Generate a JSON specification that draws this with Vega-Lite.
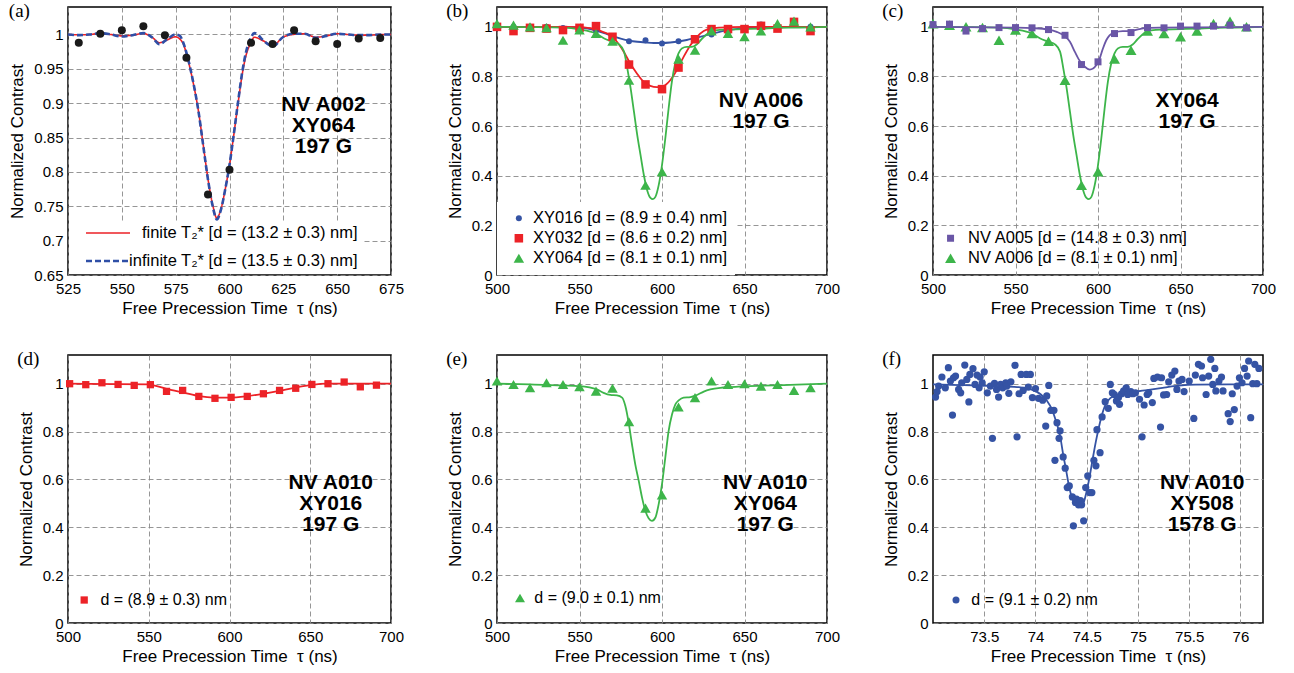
{
"$schema":"https://vega.github.io/schema/vega-lite/v6.json",
"background":"white",
"padding":{"left":8,"top":1,"right":0,"bottom":0},
"datasets":{
"a_pts":[{"t":530,"c":0.988},{"t":540,"c":1.001},{"t":550,"c":1.006},{"t":560,"c":1.012},{"t":570,"c":0.999},{"t":580,"c":0.966},{"t":590,"c":0.767},{"t":600,"c":0.803},{"t":610,"c":0.988},{"t":620,"c":0.986},{"t":630,"c":1.006},{"t":640,"c":0.99},{"t":650,"c":0.986},{"t":660,"c":0.994},{"t":670,"c":0.995}],
"a_fit":[
{"t":525,"c":1.0,"s":"finite"},{"t":530,"c":0.9995,"s":"finite"},{"t":535,"c":1.0,"s":"finite"},{"t":540,"c":1.0015,"s":"finite"},{"t":545,"c":1.0,"s":"finite"},{"t":550,"c":0.998,"s":"finite"},{"t":555,"c":0.999,"s":"finite"},{"t":560,"c":1.0015,"s":"finite"},{"t":564,"c":0.996,"s":"finite"},{"t":567.5,"c":0.988,"s":"finite"},{"t":571,"c":0.992,"s":"finite"},{"t":574.8,"c":0.9966,"s":"finite"},{"t":578.3,"c":0.988,"s":"finite"},{"t":580.3,"c":0.968,"s":"finite"},{"t":583,"c":0.932,"s":"finite"},{"t":585.6,"c":0.888,"s":"finite"},{"t":587.6,"c":0.844,"s":"finite"},{"t":590.2,"c":0.786,"s":"finite"},{"t":592.2,"c":0.752,"s":"finite"},{"t":594.1,"c":0.733,"s":"finite"},{"t":596.1,"c":0.747,"s":"finite"},{"t":598.1,"c":0.776,"s":"finite"},{"t":600,"c":0.81,"s":"finite"},{"t":602,"c":0.854,"s":"finite"},{"t":603.9,"c":0.898,"s":"finite"},{"t":605.9,"c":0.942,"s":"finite"},{"t":607.8,"c":0.971,"s":"finite"},{"t":609.6,"c":0.986,"s":"finite"},{"t":611.6,"c":0.996,"s":"finite"},{"t":615.5,"c":0.991,"s":"finite"},{"t":620.2,"c":0.984,"s":"finite"},{"t":624.8,"c":0.996,"s":"finite"},{"t":629.5,"c":1.0,"s":"finite"},{"t":635,"c":1.001,"s":"finite"},{"t":640,"c":0.996,"s":"finite"},{"t":645,"c":0.998,"s":"finite"},{"t":650,"c":1.001,"s":"finite"},{"t":655,"c":1.0,"s":"finite"},{"t":660,"c":0.999,"s":"finite"},{"t":665,"c":0.999,"s":"finite"},{"t":670,"c":1.0,"s":"finite"},{"t":675,"c":1.0,"s":"finite"},
{"t":525,"c":1.0,"s":"infinite"},{"t":530,"c":0.999,"s":"infinite"},{"t":535,"c":1.0,"s":"infinite"},{"t":540,"c":1.002,"s":"infinite"},{"t":545,"c":1.0,"s":"infinite"},{"t":550,"c":0.997,"s":"infinite"},{"t":555,"c":0.999,"s":"infinite"},{"t":560,"c":1.002,"s":"infinite"},{"t":564,"c":0.996,"s":"infinite"},{"t":567.5,"c":0.986,"s":"infinite"},{"t":571,"c":0.993,"s":"infinite"},{"t":574.8,"c":1.0,"s":"infinite"},{"t":577,"c":0.998,"s":"infinite"},{"t":578.3,"c":0.99,"s":"infinite"},{"t":580.3,"c":0.97,"s":"infinite"},{"t":583,"c":0.933,"s":"infinite"},{"t":585.6,"c":0.888,"s":"infinite"},{"t":587.6,"c":0.843,"s":"infinite"},{"t":590.2,"c":0.785,"s":"infinite"},{"t":592.2,"c":0.75,"s":"infinite"},{"t":594.1,"c":0.731,"s":"infinite"},{"t":596.1,"c":0.746,"s":"infinite"},{"t":598.1,"c":0.776,"s":"infinite"},{"t":600,"c":0.81,"s":"infinite"},{"t":602,"c":0.855,"s":"infinite"},{"t":603.9,"c":0.9,"s":"infinite"},{"t":605.9,"c":0.945,"s":"infinite"},{"t":607.8,"c":0.976,"s":"infinite"},{"t":609.6,"c":0.993,"s":"infinite"},{"t":611.6,"c":1.002,"s":"infinite"},{"t":613,"c":1.0,"s":"infinite"},{"t":615.5,"c":0.992,"s":"infinite"},{"t":620.2,"c":0.983,"s":"infinite"},{"t":624.8,"c":0.996,"s":"infinite"},{"t":629.5,"c":1.001,"s":"infinite"},{"t":635,"c":1.001,"s":"infinite"},{"t":640,"c":0.995,"s":"infinite"},{"t":645,"c":0.998,"s":"infinite"},{"t":650,"c":1.001,"s":"infinite"},{"t":655,"c":1.0,"s":"infinite"},{"t":660,"c":0.999,"s":"infinite"},{"t":665,"c":0.999,"s":"infinite"},{"t":670,"c":1.0,"s":"infinite"},{"t":675,"c":1.0,"s":"infinite"}],
"b_pts":[
{"t":500,"c":1.0,"s":"XY016"},{"t":510,"c":1.0,"s":"XY016"},{"t":520,"c":1.0,"s":"XY016"},{"t":530,"c":1.0,"s":"XY016"},{"t":540,"c":0.995,"s":"XY016"},{"t":550,"c":0.99,"s":"XY016"},{"t":560,"c":0.985,"s":"XY016"},{"t":570,"c":0.96,"s":"XY016"},{"t":580,"c":0.942,"s":"XY016"},{"t":590,"c":0.946,"s":"XY016"},{"t":600,"c":0.933,"s":"XY016"},{"t":610,"c":0.942,"s":"XY016"},{"t":620,"c":0.953,"s":"XY016"},{"t":630,"c":0.969,"s":"XY016"},{"t":640,"c":0.98,"s":"XY016"},{"t":650,"c":0.993,"s":"XY016"},{"t":660,"c":1.009,"s":"XY016"},{"t":670,"c":1.004,"s":"XY016"},{"t":680,"c":1.02,"s":"XY016"},{"t":690,"c":1.0,"s":"XY016"},
{"t":500,"c":1.0,"s":"XY032"},{"t":510,"c":0.983,"s":"XY032"},{"t":520,"c":0.996,"s":"XY032"},{"t":530,"c":0.993,"s":"XY032"},{"t":540,"c":0.987,"s":"XY032"},{"t":550,"c":0.996,"s":"XY032"},{"t":560,"c":1.003,"s":"XY032"},{"t":570,"c":0.96,"s":"XY032"},{"t":580,"c":0.848,"s":"XY032"},{"t":590,"c":0.768,"s":"XY032"},{"t":600,"c":0.749,"s":"XY032"},{"t":610,"c":0.836,"s":"XY032"},{"t":620,"c":0.95,"s":"XY032"},{"t":630,"c":0.991,"s":"XY032"},{"t":640,"c":0.991,"s":"XY032"},{"t":650,"c":0.991,"s":"XY032"},{"t":660,"c":1.004,"s":"XY032"},{"t":670,"c":0.993,"s":"XY032"},{"t":680,"c":1.02,"s":"XY032"},{"t":690,"c":0.983,"s":"XY032"},
{"t":500,"c":1.013,"s":"XY064"},{"t":510,"c":1.007,"s":"XY064"},{"t":520,"c":1.0,"s":"XY064"},{"t":530,"c":0.997,"s":"XY064"},{"t":540,"c":0.946,"s":"XY064"},{"t":550,"c":0.987,"s":"XY064"},{"t":560,"c":0.973,"s":"XY064"},{"t":570,"c":0.942,"s":"XY064"},{"t":580,"c":0.785,"s":"XY064"},{"t":590,"c":0.362,"s":"XY064"},{"t":600,"c":0.416,"s":"XY064"},{"t":610,"c":0.87,"s":"XY064"},{"t":620,"c":0.906,"s":"XY064"},{"t":630,"c":0.983,"s":"XY064"},{"t":640,"c":0.973,"s":"XY064"},{"t":650,"c":0.96,"s":"XY064"},{"t":660,"c":0.983,"s":"XY064"},{"t":670,"c":1.013,"s":"XY064"},{"t":680,"c":1.023,"s":"XY064"},{"t":690,"c":1.0,"s":"XY064"}],
"b_fit":[
{"t":500,"c":1.0,"s":"XY016"},{"t":540,"c":1.0,"s":"XY016"},{"t":550,"c":0.998,"s":"XY016"},{"t":555,"c":0.993,"s":"XY016"},{"t":560,"c":0.985,"s":"XY016"},{"t":565,"c":0.975,"s":"XY016"},{"t":570,"c":0.963,"s":"XY016"},{"t":575,"c":0.953,"s":"XY016"},{"t":580,"c":0.945,"s":"XY016"},{"t":585,"c":0.94,"s":"XY016"},{"t":590,"c":0.937,"s":"XY016"},{"t":595,"c":0.935,"s":"XY016"},{"t":600,"c":0.935,"s":"XY016"},{"t":605,"c":0.937,"s":"XY016"},{"t":610,"c":0.941,"s":"XY016"},{"t":615,"c":0.947,"s":"XY016"},{"t":620,"c":0.955,"s":"XY016"},{"t":625,"c":0.963,"s":"XY016"},{"t":630,"c":0.972,"s":"XY016"},{"t":635,"c":0.98,"s":"XY016"},{"t":640,"c":0.987,"s":"XY016"},{"t":650,"c":0.994,"s":"XY016"},{"t":660,"c":0.998,"s":"XY016"},{"t":680,"c":1.0,"s":"XY016"},{"t":700,"c":1.0,"s":"XY016"},
{"t":500,"c":1.0,"s":"XY032"},{"t":540,"c":1.0,"s":"XY032"},{"t":550,"c":0.999,"s":"XY032"},{"t":556,"c":0.995,"s":"XY032"},{"t":560,"c":0.99,"s":"XY032"},{"t":564,"c":0.98,"s":"XY032"},{"t":568.7,"c":0.966,"s":"XY032"},{"t":572.7,"c":0.94,"s":"XY032"},{"t":576.8,"c":0.9,"s":"XY032"},{"t":580.8,"c":0.852,"s":"XY032"},{"t":584.8,"c":0.812,"s":"XY032"},{"t":588.9,"c":0.778,"s":"XY032"},{"t":592.9,"c":0.762,"s":"XY032"},{"t":597,"c":0.757,"s":"XY032"},{"t":601,"c":0.762,"s":"XY032"},{"t":605,"c":0.785,"s":"XY032"},{"t":609,"c":0.826,"s":"XY032"},{"t":613.1,"c":0.879,"s":"XY032"},{"t":617.2,"c":0.926,"s":"XY032"},{"t":621.2,"c":0.96,"s":"XY032"},{"t":625.3,"c":0.983,"s":"XY032"},{"t":629.3,"c":0.993,"s":"XY032"},{"t":635,"c":0.997,"s":"XY032"},{"t":650,"c":1.0,"s":"XY032"},{"t":700,"c":1.0,"s":"XY032"},
{"t":500,"c":1.0,"s":"XY064"},{"t":520,"c":0.999,"s":"XY064"},{"t":540,"c":0.997,"s":"XY064"},{"t":550,"c":0.99,"s":"XY064"},{"t":560,"c":0.973,"s":"XY064"},{"t":565,"c":0.953,"s":"XY064"},{"t":570,"c":0.94,"s":"XY064"},{"t":574,"c":0.929,"s":"XY064"},{"t":577,"c":0.9,"s":"XY064"},{"t":579,"c":0.832,"s":"XY064"},{"t":581,"c":0.752,"s":"XY064"},{"t":583,"c":0.658,"s":"XY064"},{"t":585,"c":0.564,"s":"XY064"},{"t":587,"c":0.483,"s":"XY064"},{"t":589,"c":0.403,"s":"XY064"},{"t":591,"c":0.342,"s":"XY064"},{"t":593,"c":0.311,"s":"XY064"},{"t":594.5,"c":0.306,"s":"XY064"},{"t":596,"c":0.315,"s":"XY064"},{"t":598,"c":0.362,"s":"XY064"},{"t":600,"c":0.443,"s":"XY064"},{"t":602,"c":0.55,"s":"XY064"},{"t":604,"c":0.671,"s":"XY064"},{"t":606,"c":0.779,"s":"XY064"},{"t":608,"c":0.852,"s":"XY064"},{"t":610,"c":0.893,"s":"XY064"},{"t":612,"c":0.913,"s":"XY064"},{"t":615,"c":0.919,"s":"XY064"},{"t":618,"c":0.919,"s":"XY064"},{"t":621,"c":0.929,"s":"XY064"},{"t":624,"c":0.95,"s":"XY064"},{"t":627,"c":0.969,"s":"XY064"},{"t":630,"c":0.983,"s":"XY064"},{"t":635,"c":0.988,"s":"XY064"},{"t":640,"c":0.989,"s":"XY064"},{"t":650,"c":0.991,"s":"XY064"},{"t":660,"c":0.993,"s":"XY064"},{"t":670,"c":0.996,"s":"XY064"},{"t":680,"c":0.997,"s":"XY064"},{"t":690,"c":0.998,"s":"XY064"},{"t":700,"c":1.0,"s":"XY064"}],
"c_pts":[{"t":500,"c":1.009,"s":"A005"},{"t":510,"c":1.011,"s":"A005"},{"t":520,"c":0.983,"s":"A005"},{"t":530,"c":0.993,"s":"A005"},{"t":540,"c":0.997,"s":"A005"},{"t":550,"c":0.997,"s":"A005"},{"t":560,"c":0.996,"s":"A005"},{"t":570,"c":0.989,"s":"A005"},{"t":580,"c":0.966,"s":"A005"},{"t":590,"c":0.848,"s":"A005"},{"t":600,"c":0.859,"s":"A005"},{"t":610,"c":0.973,"s":"A005"},{"t":620,"c":0.977,"s":"A005"},{"t":630,"c":0.997,"s":"A005"},{"t":640,"c":0.996,"s":"A005"},{"t":650,"c":1.003,"s":"A005"},{"t":660,"c":1.003,"s":"A005"},{"t":670,"c":1.003,"s":"A005"},{"t":680,"c":1.007,"s":"A005"},{"t":690,"c":0.996,"s":"A005"}],
"c_fit":[{"t":500,"c":1.0},{"t":550,"c":0.997},{"t":560,"c":0.995},{"t":570,"c":0.989},{"t":575,"c":0.98},{"t":580,"c":0.962},{"t":583,"c":0.94},{"t":586,"c":0.899},{"t":589,"c":0.862},{"t":592,"c":0.839},{"t":595,"c":0.828},{"t":597,"c":0.832},{"t":599,"c":0.846},{"t":601,"c":0.872},{"t":603,"c":0.913},{"t":605,"c":0.946},{"t":607,"c":0.966},{"t":610,"c":0.977},{"t":615,"c":0.983},{"t":620,"c":0.983},{"t":625,"c":0.991},{"t":630,"c":0.996},{"t":640,"c":0.997},{"t":660,"c":0.998},{"t":700,"c":1.0}],
"d_pts":[{"t":501,"c":1.0},{"t":511,"c":0.996},{"t":521,"c":1.004},{"t":531,"c":0.997},{"t":541,"c":0.993},{"t":551,"c":0.996},{"t":561,"c":0.968},{"t":571,"c":0.972},{"t":581,"c":0.947},{"t":591,"c":0.939},{"t":601,"c":0.943},{"t":611,"c":0.947},{"t":621,"c":0.958},{"t":631,"c":0.972},{"t":641,"c":0.981},{"t":651,"c":0.997},{"t":661,"c":1.0},{"t":671,"c":1.007},{"t":681,"c":0.987},{"t":691,"c":0.994}],
"d_fit":[{"t":500,"c":1.0},{"t":550,"c":0.997},{"t":555,"c":0.99},{"t":560,"c":0.981},{"t":570,"c":0.965},{"t":580,"c":0.95},{"t":590,"c":0.942},{"t":600,"c":0.942},{"t":610,"c":0.947},{"t":620,"c":0.957},{"t":630,"c":0.969},{"t":640,"c":0.983},{"t":650,"c":0.994},{"t":660,"c":1.0},{"t":700,"c":1.0}],
"e_pts":[{"t":500,"c":1.011},{"t":510,"c":0.997},{"t":520,"c":0.983},{"t":530,"c":1.004},{"t":540,"c":0.997},{"t":550,"c":0.987},{"t":560,"c":0.969},{"t":570,"c":0.981},{"t":580,"c":0.841},{"t":590,"c":0.48},{"t":600,"c":0.535},{"t":610,"c":0.903},{"t":620,"c":0.942},{"t":630,"c":1.011},{"t":640,"c":0.997},{"t":650,"c":1.0},{"t":660,"c":0.99},{"t":670,"c":0.997},{"t":680,"c":0.972},{"t":690,"c":0.983}],
"e_fit":[{"t":500,"c":1.0},{"t":520,"c":0.997},{"t":540,"c":0.993},{"t":550,"c":0.99},{"t":560.6,"c":0.976},{"t":564.6,"c":0.962},{"t":568.7,"c":0.953},{"t":572.7,"c":0.951},{"t":575.8,"c":0.942},{"t":577.8,"c":0.907},{"t":579.8,"c":0.837},{"t":581.8,"c":0.747},{"t":583.8,"c":0.663},{"t":585.9,"c":0.594},{"t":587.9,"c":0.524},{"t":589.9,"c":0.469},{"t":591.9,"c":0.438},{"t":593.9,"c":0.427},{"t":596,"c":0.441},{"t":598,"c":0.497},{"t":600,"c":0.58},{"t":602,"c":0.691},{"t":604,"c":0.802},{"t":606.1,"c":0.872},{"t":608.1,"c":0.914},{"t":610.1,"c":0.93},{"t":613.1,"c":0.942},{"t":617.2,"c":0.944},{"t":621.2,"c":0.953},{"t":625.3,"c":0.967},{"t":629.3,"c":0.976},{"t":635.4,"c":0.983},{"t":641.4,"c":0.986},{"t":661.6,"c":0.992},{"t":681.8,"c":0.996},{"t":700,"c":1.0}],
"f_fit":[{"t":73.0,"c":0.997},{"t":73.3,"c":0.994},{"t":73.63,"c":0.99},{"t":73.82,"c":0.986},{"t":73.95,"c":0.977},{"t":74.05,"c":0.956},{"t":74.11,"c":0.93},{"t":74.16,"c":0.893},{"t":74.2,"c":0.844},{"t":74.24,"c":0.782},{"t":74.27,"c":0.705},{"t":74.3,"c":0.636},{"t":74.33,"c":0.566},{"t":74.36,"c":0.518},{"t":74.4,"c":0.494},{"t":74.44,"c":0.485},{"t":74.47,"c":0.503},{"t":74.5,"c":0.552},{"t":74.53,"c":0.615},{"t":74.56,"c":0.69},{"t":74.59,"c":0.76},{"t":74.62,"c":0.82},{"t":74.65,"c":0.872},{"t":74.68,"c":0.91},{"t":74.73,"c":0.94},{"t":74.81,"c":0.955},{"t":74.91,"c":0.963},{"t":75.07,"c":0.972},{"t":75.24,"c":0.983},{"t":75.4,"c":0.992},{"t":75.56,"c":0.996},{"t":75.89,"c":0.997},{"t":76.22,"c":0.997}],
"f_pts":[{"t":73.025,"c":0.944},{"t":73.04,"c":0.967},{"t":73.055,"c":0.99},{"t":73.087,"c":1.028},{"t":73.12,"c":0.983},{"t":73.15,"c":1.067},{"t":73.17,"c":1.011},{"t":73.19,"c":0.869},{"t":73.2,"c":1.025},{"t":73.22,"c":1.032},{"t":73.25,"c":0.976},{"t":73.27,"c":0.962},{"t":73.28,"c":1.004},{"t":73.31,"c":1.078},{"t":73.33,"c":1.018},{"t":73.35,"c":0.924},{"t":73.36,"c":1.039},{"t":73.39,"c":1.063},{"t":73.41,"c":0.997},{"t":73.43,"c":1.036},{"t":73.45,"c":0.983},{"t":73.46,"c":1.028},{"t":73.48,"c":1.004},{"t":73.5,"c":1.05},{"t":73.53,"c":0.962},{"t":73.56,"c":0.99},{"t":73.58,"c":0.772},{"t":73.6,"c":1.002},{"t":73.62,"c":0.976},{"t":73.64,"c":0.944},{"t":73.66,"c":0.997},{"t":73.68,"c":0.983},{"t":73.71,"c":1.004},{"t":73.72,"c":0.99},{"t":73.74,"c":0.96},{"t":73.76,"c":1.008},{"t":73.8,"c":1.077},{"t":73.82,"c":0.778},{"t":73.84,"c":0.958},{"t":73.86,"c":1.039},{"t":73.88,"c":0.972},{"t":73.91,"c":1.039},{"t":73.93,"c":0.986},{"t":73.95,"c":1.039},{"t":73.97,"c":0.942},{"t":74.0,"c":0.98},{"t":74.03,"c":0.939},{"t":74.07,"c":0.931},{"t":74.1,"c":0.823},{"t":74.11,"c":0.949},{"t":74.13,"c":0.993},{"t":74.15,"c":0.889},{"t":74.18,"c":0.889},{"t":74.21,"c":0.837},{"t":74.19,"c":0.68},{"t":74.24,"c":0.803},{"t":74.23,"c":0.772},{"t":74.27,"c":0.694},{"t":74.29,"c":0.647},{"t":74.31,"c":0.566},{"t":74.33,"c":0.573},{"t":74.36,"c":0.527},{"t":74.37,"c":0.406},{"t":74.39,"c":0.504},{"t":74.4,"c":0.518},{"t":74.42,"c":0.494},{"t":74.44,"c":0.511},{"t":74.45,"c":0.494},{"t":74.47,"c":0.427},{"t":74.49,"c":0.566},{"t":74.51,"c":0.615},{"t":74.53,"c":0.545},{"t":74.55,"c":0.545},{"t":74.57,"c":0.68},{"t":74.59,"c":0.657},{"t":74.6,"c":0.808},{"t":74.63,"c":0.712},{"t":74.65,"c":0.861},{"t":74.68,"c":0.925},{"t":74.71,"c":0.897},{"t":74.73,"c":0.997},{"t":74.75,"c":0.962},{"t":74.77,"c":0.955},{"t":74.79,"c":0.928},{"t":74.81,"c":0.942},{"t":74.82,"c":0.914},{"t":74.84,"c":0.958},{"t":74.86,"c":0.97},{"t":74.885,"c":0.983},{"t":74.9,"c":0.955},{"t":74.93,"c":0.967},{"t":74.95,"c":0.958},{"t":74.975,"c":0.962},{"t":75.015,"c":0.935},{"t":75.04,"c":0.778},{"t":75.06,"c":0.911},{"t":75.09,"c":0.955},{"t":75.105,"c":0.962},{"t":75.14,"c":0.921},{"t":75.155,"c":1.022},{"t":75.19,"c":1.028},{"t":75.22,"c":0.819},{"t":75.23,"c":1.025},{"t":75.25,"c":0.953},{"t":75.28,"c":0.955},{"t":75.3,"c":1.008},{"t":75.33,"c":1.036},{"t":75.36,"c":1.053},{"t":75.38,"c":0.976},{"t":75.4,"c":1.011},{"t":75.43,"c":1.018},{"t":75.45,"c":0.967},{"t":75.5,"c":1.011},{"t":75.545,"c":0.855},{"t":75.56,"c":1.036},{"t":75.59,"c":1.081},{"t":75.62,"c":1.074},{"t":75.63,"c":1.025},{"t":75.665,"c":0.955},{"t":75.69,"c":1.032},{"t":75.71,"c":1.102},{"t":75.73,"c":0.997},{"t":75.75,"c":1.064},{"t":75.76,"c":0.97},{"t":75.79,"c":1.011},{"t":75.815,"c":1.028},{"t":75.83,"c":0.97},{"t":75.88,"c":0.875},{"t":75.9,"c":0.842},{"t":75.92,"c":0.958},{"t":75.94,"c":0.892},{"t":75.967,"c":0.99},{"t":75.99,"c":1.025},{"t":76.015,"c":1.004},{"t":76.04,"c":1.064},{"t":76.065,"c":1.032},{"t":76.08,"c":1.095},{"t":76.1,"c":0.858},{"t":76.12,"c":1.0},{"t":76.14,"c":1.081},{"t":76.16,"c":1.0},{"t":76.18,"c":1.064}],
"notes":[{"p":"a","t":643.6,"c":0.897,"label":"NV A002\nXY064\n197 G"},{"p":"b","t":660,"c":0.7,"label":"NV A006\n197 G"},{"p":"c","t":654,"c":0.7,"label":"XY064\n197 G"},{"p":"d","t":662.7,"c":0.587,"label":"NV A010\nXY016\n197 G"},{"p":"e","t":662.6,"c":0.587,"label":"NV A010\nXY064\n197 G"},{"p":"f","t":75.626,"c":0.584,"label":"NV A010\nXY508\n1578 G"}]
},
"vconcat":[
{"hconcat":[
{"width":323,"height":268,"title":"(a)",
 "encoding":{
  "x":{"field":"t","type":"quantitative","scale":{"domain":[525,675],"nice":false,"zero":false},"axis":{"values":[525,550,575,600,625,650,675],"title":"Free Precession Time\u00a0 τ (ns)"}},
  "y":{"field":"c","type":"quantitative","scale":{"domain":[0.65,1.04],"nice":false,"zero":false},"axis":{"values":[0.65,0.7,0.75,0.8,0.85,0.9,0.95,1],"format":"~g","title":"Normalized Contrast"}}},
 "layer":[
  {"data":{"name":"a_fit"},"mark":{"type":"line","interpolate":"monotone","zindex":1},
   "encoding":{
    "color":{"field":"s","type":"nominal","scale":{"domain":["finite","infinite"],"range":["#ec2227","#2f4fa6"]},
      "legend":{"title":null,"orient":"bottom-left","offset":1,"padding":4,"fillColor":"white","zindex":0,"symbolType":"stroke","symbolSize":1936,"symbolOffset":11.5,"clipHeight":16,"labelAlign":"right","labelOffset":226,"rowPadding":11,"labelFontSize":16.5,"labelLimit":500,"labelExpr":"datum.label=='finite' ? 'finite T₂* [d = (13.2 ± 0.3) nm]' : 'infinite T₂* [d = (13.5 ± 0.3) nm]'"}},
    "strokeDash":{"field":"s","type":"nominal","scale":{"domain":["finite","infinite"],"range":[[1,0],[6,3]]}},
    "strokeWidth":{"field":"s","type":"ordinal","scale":{"domain":["finite","infinite"],"range":[1.6,2.6]}}}},
  {"data":{"name":"a_pts"},"mark":{"type":"point","filled":true,"shape":"circle","size":64,"color":"#1a1a1a","opacity":1}},
  {"data":{"name":"notes"},"transform":[{"filter":"datum.p=='a'"}],"mark":{"type":"text","lineBreak":"\n","fontSize":21,"fontWeight":"bold","lineHeight":21,"align":"center","baseline":"middle","color":"black"},"encoding":{"text":{"field":"label","type":"nominal"}}}
 ]},
{"width":330,"height":268,"title":"(b)",
 "encoding":{
  "x":{"field":"t","type":"quantitative","scale":{"domain":[500,700],"nice":false,"zero":false},"axis":{"values":[500,550,600,650,700],"title":"Free Precession Time\u00a0 τ (ns)"}},
  "y":{"field":"c","type":"quantitative","scale":{"domain":[0,1.08],"nice":false},"axis":{"values":[0,0.2,0.4,0.6,0.8,1],"format":"~g","title":"Normalized Contrast"}}},
 "layer":[
  {"data":{"name":"b_fit"},"transform":[{"filter":"datum.s=='XY016'"}],"mark":{"type":"line","interpolate":"monotone","strokeWidth":1.8,"color":"#3553a4","zindex":1}},
  {"data":{"name":"b_fit"},"transform":[{"filter":"datum.s=='XY032'"}],"mark":{"type":"line","interpolate":"monotone","strokeWidth":1.8,"color":"#ec2227","zindex":1}},
  {"data":{"name":"b_fit"},"transform":[{"filter":"datum.s=='XY064'"}],"mark":{"type":"line","interpolate":"monotone","strokeWidth":1.8,"color":"#3db54a","zindex":1}},
  {"data":{"name":"b_pts"},"mark":{"type":"point","filled":true,"opacity":1,"zindex":1},
   "encoding":{"color":{"field":"s","type":"nominal","scale":{"domain":["XY016","XY032","XY064"],"range":["#3553a4","#ec2227","#3db54a"]},"legend":{"title":null,"orient":"bottom-left","offset":0,"padding":8,"fillColor":"white","zindex":0,"rowPadding":3,"symbolOffset":5.6,"labelOffset":6,"symbolStrokeWidth":0,"labelFontSize":16.5,"labelLimit":500,"labelExpr":"datum.label=='XY016' ? 'XY016 [d = (8.9 ± 0.4) nm]' : datum.label=='XY032' ? 'XY032 [d = (8.6 ± 0.2) nm]' : 'XY064 [d = (8.1 ± 0.1) nm]'"}},
    "shape":{"field":"s","type":"nominal","scale":{"domain":["XY016","XY032","XY064"],"range":["circle","square","triangle-up"]}},
    "size":{"field":"s","type":"nominal","scale":{"type":"point","domain":["XY016","XY032","XY064"],"range":[36,110],"padding":0}}}},
  {"data":{"name":"notes"},"transform":[{"filter":"datum.p=='b'"}],"mark":{"type":"text","lineBreak":"\n","fontSize":21,"fontWeight":"bold","lineHeight":21,"align":"center","baseline":"middle","color":"black"},"encoding":{"text":{"field":"label","type":"nominal"}}}
 ]},
{"width":330,"height":268,"title":"(c)",
 "encoding":{
  "x":{"field":"t","type":"quantitative","scale":{"domain":[500,700],"nice":false,"zero":false},"axis":{"values":[500,550,600,650,700],"title":"Free Precession Time\u00a0 τ (ns)"}},
  "y":{"field":"c","type":"quantitative","scale":{"domain":[0,1.08],"nice":false},"axis":{"values":[0,0.2,0.4,0.6,0.8,1],"format":"~g","title":"Normalized Contrast"}}},
 "layer":[
  {"data":{"name":"b_fit"},"transform":[{"filter":"datum.s=='XY064'"}],"mark":{"type":"line","interpolate":"monotone","strokeWidth":1.8,"color":"#3db54a"}},
  {"data":{"name":"b_pts"},"transform":[{"filter":"datum.s=='XY064'"}],"mark":{"type":"point","filled":true,"opacity":1},
   "encoding":{"color":{"field":"s","type":"nominal","scale":{"domain":["A005","XY064"],"range":["#6a56a6","#3db54a"]},"legend":{"title":null,"orient":"bottom-left","offset":0,"padding":8,"rowPadding":3,"symbolOffset":1.3,"labelOffset":9.3,"symbolStrokeWidth":0,"labelFontSize":16.5,"labelLimit":500,"labelExpr":"datum.label=='A005' ? 'NV A005 [d = (14.8 ± 0.3) nm]' : 'NV A006 [d = (8.1 ± 0.1) nm]'"}},
    "shape":{"field":"s","type":"nominal","scale":{"domain":["A005","XY064"],"range":["square","triangle-up"]}},
    "size":{"field":"s","type":"nominal","scale":{"type":"point","domain":["A005","XY064"],"range":[49,121],"padding":0}}}},
  {"data":{"name":"c_fit"},"mark":{"type":"line","interpolate":"monotone","strokeWidth":1.8,"color":"#6a56a6"}},
  {"data":{"name":"c_pts"},"mark":{"type":"point","filled":true,"opacity":1},
   "encoding":{"color":{"field":"s","type":"nominal"},"shape":{"field":"s","type":"nominal"},"size":{"field":"s","type":"nominal"}}},
  {"data":{"name":"notes"},"transform":[{"filter":"datum.p=='c'"}],"mark":{"type":"text","lineBreak":"\n","fontSize":21,"fontWeight":"bold","lineHeight":21,"align":"center","baseline":"middle","color":"black"},"encoding":{"text":{"field":"label","type":"nominal"}}}
 ]}
],"spacing":106,"bounds":"flush",
"resolve":{"scale":{"color":"independent","shape":"independent","size":"independent","strokeDash":"independent","strokeWidth":"independent"},"legend":{"color":"independent","shape":"independent","size":"independent","strokeDash":"independent","strokeWidth":"independent"}}},
{"hconcat":[
{"width":323,"height":268,"title":"(d)",
 "encoding":{
  "x":{"field":"t","type":"quantitative","scale":{"domain":[500,700],"nice":false,"zero":false},"axis":{"values":[500,550,600,650,700],"title":"Free Precession Time\u00a0 τ (ns)"}},
  "y":{"field":"c","type":"quantitative","scale":{"domain":[0,1.12],"nice":false},"axis":{"values":[0,0.2,0.4,0.6,0.8,1],"format":"~g","title":"Normalized Contrast"}}},
 "layer":[
  {"data":{"name":"d_fit"},"mark":{"type":"line","interpolate":"monotone","strokeWidth":1.8,"color":"#ec2227"}},
  {"data":{"name":"d_pts"},"mark":{"type":"point","filled":true,"opacity":1,"size":53},
   "encoding":{"color":{"datum":"d = (8.9 ± 0.3) nm","type":"nominal","scale":{"range":["#ec2227"]},"legend":{"title":null,"orient":"bottom-left","offset":15.4,"padding":0,"symbolSize":53,"symbolOffset":-6.8,"labelOffset":8.2,"symbolStrokeWidth":0,"labelFontSize":16,"labelLimit":500}},
    "shape":{"datum":"d = (8.9 ± 0.3) nm","type":"nominal","scale":{"range":["square"]}}}},
  {"data":{"name":"notes"},"transform":[{"filter":"datum.p=='d'"}],"mark":{"type":"text","lineBreak":"\n","fontSize":21,"fontWeight":"bold","lineHeight":21,"align":"center","baseline":"middle","color":"black"},"encoding":{"text":{"field":"label","type":"nominal"}}}
 ]},
{"width":330,"height":268,"title":"(e)",
 "encoding":{
  "x":{"field":"t","type":"quantitative","scale":{"domain":[500,700],"nice":false,"zero":false},"axis":{"values":[500,550,600,650,700],"title":"Free Precession Time\u00a0 τ (ns)"}},
  "y":{"field":"c","type":"quantitative","scale":{"domain":[0,1.12],"nice":false},"axis":{"values":[0,0.2,0.4,0.6,0.8,1],"format":"~g","title":"Normalized Contrast"}}},
 "layer":[
  {"data":{"name":"e_fit"},"mark":{"type":"line","interpolate":"monotone","strokeWidth":1.8,"color":"#3db54a"}},
  {"data":{"name":"e_pts"},"mark":{"type":"point","filled":true,"opacity":1,"size":110},
   "encoding":{"color":{"datum":"d = (9.0 ± 0.1) nm","type":"nominal","scale":{"range":["#3db54a"]},"legend":{"title":null,"orient":"bottom-left","offset":17,"padding":0,"symbolSize":100,"symbolOffset":-2,"labelOffset":6.3,"symbolStrokeWidth":0,"labelFontSize":16,"labelLimit":500}},
    "shape":{"datum":"d = (9.0 ± 0.1) nm","type":"nominal","scale":{"range":["triangle-up"]}}}},
  {"data":{"name":"notes"},"transform":[{"filter":"datum.p=='e'"}],"mark":{"type":"text","lineBreak":"\n","fontSize":21,"fontWeight":"bold","lineHeight":21,"align":"center","baseline":"middle","color":"black"},"encoding":{"text":{"field":"label","type":"nominal"}}}
 ]},
{"width":330,"height":268,"title":"(f)",
 "encoding":{
  "x":{"field":"t","type":"quantitative","scale":{"domain":[73.0,76.22],"nice":false,"zero":false},"axis":{"values":[73.5,74,74.5,75,75.5,76],"format":"~g","title":"Free Precession Time\u00a0 τ (ns)"}},
  "y":{"field":"c","type":"quantitative","scale":{"domain":[0,1.12],"nice":false},"axis":{"values":[0,0.2,0.4,0.6,0.8,1],"format":"~g","title":"Normalized Contrast"}}},
 "layer":[
  {"data":{"name":"f_fit"},"mark":{"type":"line","interpolate":"monotone","strokeWidth":1.8,"color":"#3553a4"}},
  {"data":{"name":"f_pts"},"mark":{"type":"point","filled":true,"opacity":1,"size":52},
   "encoding":{"color":{"datum":"d = (9.1 ± 0.2) nm","type":"nominal","scale":{"range":["#3553a4"]},"legend":{"title":null,"orient":"bottom-left","offset":15,"padding":0,"symbolSize":49,"symbolOffset":0,"labelOffset":7.3,"symbolStrokeWidth":0,"labelFontSize":16,"labelLimit":500}},
    "shape":{"datum":"d = (9.1 ± 0.2) nm","type":"nominal","scale":{"range":["circle"]}}}},
  {"data":{"name":"notes"},"transform":[{"filter":"datum.p=='f'"}],"mark":{"type":"text","lineBreak":"\n","fontSize":21,"fontWeight":"bold","lineHeight":21,"align":"center","baseline":"middle","color":"black"},"encoding":{"text":{"field":"label","type":"nominal"}}}
 ]}
],"spacing":106,"bounds":"flush",
"resolve":{"scale":{"color":"independent","shape":"independent"},"legend":{"color":"independent","shape":"independent"}}}
],
"spacing":32,
"resolve":{"scale":{"color":"independent","shape":"independent","size":"independent","strokeDash":"independent","strokeWidth":"independent"},"legend":{"color":"independent","shape":"independent","size":"independent","strokeDash":"independent","strokeWidth":"independent"}},
"config":{
 "font":"Liberation Sans",
 "view":{"stroke":"black","strokeWidth":1.5},
 "axis":{"grid":true,"gridColor":"#8a8a8a","gridDash":[5,3],"gridWidth":0.9,"domain":false,"ticks":false,"labelFontSize":15,"labelColor":"black","labelFont":"Liberation Sans","titleFontSize":17,"titleFontWeight":"normal","titleColor":"black","titleFont":"Liberation Sans","labelFlush":false,"labelOverlap":false},
 "axisX":{"labelPadding":6,"titlePadding":4},
 "axisY":{"labelPadding":5,"titlePadding":7},
 "legend":{"labelFont":"Liberation Sans","labelFontSize":16,"labelColor":"black","labelLimit":500},
 "title":{"font":"Liberation Serif","fontSize":19,"fontWeight":"normal","anchor":"start","frame":"bounds","offset":-14,"color":"black"},
 "text":{"font":"Liberation Sans"}
}
}
